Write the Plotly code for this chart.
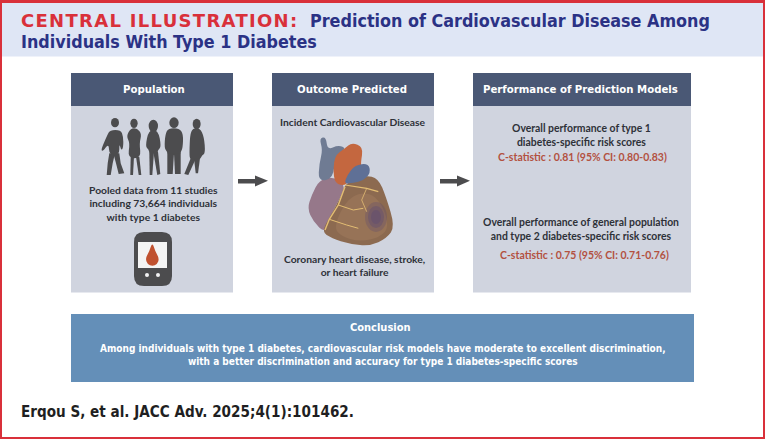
import plotly.graph_objects as go

# texts of the illustration
title_red = "CENTRAL ILLUSTRATION:"
title_line1 = "Prediction of Cardiovascular Disease Among"
title_line2 = "Individuals With Type 1 Diabetes"
box_titles = ["Population", "Outcome Predicted", "Performance of Prediction Models"]
population_lines = ["Pooled data from 11 studies", "including 73,664 individuals", "with type 1 diabetes"]
outcome_top = "Incident Cardiovascular Disease"
outcome_lines = ["Coronary heart disease, stroke,", "or heart failure"]
perf_t1_lines = ["Overall performance of type 1", "diabetes-specific risk scores"]
perf_t1_stat = "C-statistic : 0.81 (95% CI: 0.80-0.83)"
perf_gen_lines = ["Overall performance of general population", "and type 2 diabetes-specific risk scores"]
perf_gen_stat = "C-statistic : 0.75 (95% CI: 0.71-0.76)"
conclusion_title = "Conclusion"
conclusion_lines = [
    "Among individuals with type 1 diabetes, cardiovascular risk models have moderate to excellent discrimination,",
    "with a better discrimination and accuracy for type 1 diabetes-specific scores",
]
citation = "Erqou S, et al. JACC Adv. 2025;4(1):101462."

RED = "#d9303a"
NAVY = "#2b3285"
SLATE = "#4a5875"
PANEL = "#d0d4df"
BLUE = "#648fb8"
GREY = "#4c4c4e"
TEXT = "#2e3138"
STAT = "#b3513f"
GOLD = "#e3bd73"

NARROW = "DejaVu Sans Condensed"
BODY = "Lato"

fig = go.Figure()


def rect(x0, y0, x1, y1, color):
    fig.add_shape(type="rect", x0=x0, y0=y0, x1=x1, y1=y1, fillcolor=color, line=dict(width=0), layer="above")


def poly(points, color, ox, oy, round_it=True):
    pts = [(ox + x / 3, oy + y / 3) for x, y in points]
    if round_it:
        # rounded outline: each vertex is a control point between edge midpoints
        n = len(pts)
        mids = [((pts[i][0] + pts[(i + 1) % n][0]) / 2, (pts[i][1] + pts[(i + 1) % n][1]) / 2) for i in range(n)]
        d = f"M {mids[-1][0]:.1f},{mids[-1][1]:.1f}"
        for i in range(n):
            d += f" Q {pts[i][0]:.1f},{pts[i][1]:.1f} {mids[i][0]:.1f},{mids[i][1]:.1f}"
    else:
        d = "M " + " L ".join(f"{x:.1f},{y:.1f}" for x, y in pts)
    fig.add_shape(type="path", path=d + " Z", fillcolor=color, line=dict(width=0), layer="above")


def stroke(points, color, ox, oy, width=1):
    d = "M " + " L ".join(f"{ox + x / 3:.1f},{oy + y / 3:.1f}" for x, y in points)
    fig.add_shape(type="path", path=d, line=dict(color=color, width=width), layer="above")


def blob(cx, cy, rx, ry, color, opacity=1):
    fig.add_shape(type="circle", x0=cx - rx, y0=cy - ry, x1=cx + rx, y1=cy + ry,
                  fillcolor=color, opacity=opacity, line=dict(width=0), layer="above")


def text(x, y, s, size, color, family=BODY, weight=700, anchor="center"):
    fig.add_annotation(x=x, y=y, text=s, showarrow=False, xanchor=anchor, yanchor="middle",
                       font=dict(family=family, size=size, color=color, weight=weight))


# frame and header
rect(0, 0, 765, 439, RED)
rect(2, 3, 763, 437, "#ffffff")
rect(2, 3, 763, 56.5, "#dfe6f5")

# panels
for x0, x1 in [(71, 233), (272, 434), (473, 691)]:
    rect(x0, 106, x1, 292.5, PANEL)
    rect(x0, 73, x1, 106, SLATE)
rect(71, 314, 694, 382, BLUE)

# arrows
for x0 in [238, 440]:
    rect(x0, 179, x0 + 19, 183.5, GREY)
    poly([(51, 0), (90, 16), (51, 33)], GREY, x0, 175.5, round_it=False)

# people, in the coordinates of the crop at (60, 110)
people_heads = [(165, 38, 12, 14), (222, 40, 11, 14), (280, 48, 14, 19), (342, 38, 14, 16), (410, 42, 12, 16)]
people_bodies = [
    [(150, 60), (182, 60), (190, 80), (190, 112), (184, 122), (178, 100), (178, 135), (148, 135), (146, 100), (128, 125), (123, 118), (142, 75)],
    [(212, 55), (232, 55), (245, 72), (238, 100), (243, 145), (203, 145), (210, 100), (199, 78)],
    [(266, 60), (294, 60), (304, 110), (294, 120), (292, 130), (268, 130), (266, 118), (256, 110)],
    [(325, 55), (358, 55), (370, 72), (368, 115), (362, 125), (362, 135), (322, 135), (322, 125), (313, 115), (316, 72)],
    [(398, 55), (420, 55), (432, 80), (436, 130), (426, 135), (420, 150), (390, 150), (388, 130), (390, 75)],
]
people_legs = [
    [(148, 130), (165, 130), (158, 160), (152, 195), (140, 195), (143, 160)],
    [(160, 130), (178, 130), (182, 160), (193, 190), (176, 192), (168, 160)],
    [(212, 140), (222, 140), (219, 195), (211, 195)],
    [(228, 140), (238, 140), (244, 195), (236, 195)],
    [(268, 125), (282, 125), (277, 195), (269, 195)],
    [(280, 125), (294, 125), (301, 192), (292, 195)],
    [(322, 130), (342, 130), (338, 192), (322, 192)],
    [(342, 130), (362, 130), (362, 192), (345, 192)],
    [(392, 145), (408, 145), (385, 195), (373, 192)],
    [(402, 145), (420, 145), (414, 190), (407, 190)],
]
for hx0, hy0, hrx, hry in people_heads:
    blob(60 + hx0 / 3, 110 + hy0 / 3, hrx / 3, hry / 3, GREY)
for body in people_bodies:
    poly(body, GREY, 60, 110)
for leg in people_legs:
    poly(leg, GREY, 60, 110, round_it=False)

# glucose meter
fig.add_shape(type="path", fillcolor=GREY, line=dict(width=0), layer="above",
              path="M 144,232 L 162,232 Q 172,232 172,242 L 172,276 Q 172,286 162,286 "
                   "L 144,286 Q 134,286 134,276 L 134,242 Q 134,232 144,232 Z")
rect(138, 242, 167, 268, "#f4f4f4")
poly([(277, 396), (286, 425), (298, 445), (291, 464), (277, 468), (263, 464), (256, 445), (268, 425)], "#c0512f", 60, 110)
blob(147, 275, 2, 2, "#f2f2f2")
blob(158, 275, 2, 2, "#f2f2f2")

# heart, in the coordinates of the crop at (270, 120)
hx, hy = 270, 120
poly([(148, 180), (125, 225), (112, 265), (130, 305), (165, 340), (180, 290), (215, 225), (225, 195), (190, 170)], "#96788a", hx, hy)
poly([(225, 190), (285, 165), (325, 175), (348, 230), (375, 320), (350, 355), (300, 378), (240, 372), (185, 355), (155, 335), (180, 290), (215, 225)], "#8c6a50", hx, hy)
poly([(235, 230), (295, 215), (335, 250), (358, 320), (330, 352), (270, 365), (215, 350), (190, 320)], "#977357", hx, hy)
poly([(148, 55), (168, 50), (172, 90), (205, 75), (230, 85), (195, 110), (190, 175), (145, 185), (148, 130), (158, 90)], "#6f7b93", hx, hy)
poly([(190, 175), (192, 108), (225, 85), (245, 68), (280, 80), (272, 130), (275, 145), (245, 165), (230, 195), (205, 195)], "#c4673f", hx, hy)
poly([(232, 165), (255, 135), (295, 130), (302, 158), (280, 182), (250, 188), (222, 192)], "#5f7096", hx, hy)
for rx, ry, op in [(11, 15, 0.3), (8, 11, 0.4), (5, 7, 0.4)]:
    blob(hx + 106, hy + 97, rx, ry, "#5c4a72", op)
stroke([(225, 195), (290, 205), (325, 215)], GOLD, hx, hy, 1.2)
stroke([(225, 200), (205, 255), (178, 298), (165, 330)], GOLD, hx, hy, 1.4)
stroke([(178, 298), (230, 315), (265, 325)], GOLD, hx, hy, 1)
stroke([(205, 255), (250, 270), (280, 265)], GOLD, hx, hy, 1)
stroke([(290, 205), (275, 240), (290, 275)], GOLD, hx, hy, 0.8)

# header and panel text
text(19, 20, f"<span style='letter-spacing:1.3px'>{title_red}</span>", 18, RED, family="DejaVu Sans", anchor="left")
text(308, 20, title_line1, 17.8, NAVY, family=NARROW, anchor="left")
text(19, 41.5, title_line2, 17.8, NAVY, family=NARROW, anchor="left")

for cx, s in zip([154, 352, 580], box_titles):
    text(cx, 89, s, 11.3, "#ffffff", family=NARROW)

text(153, 203.5, "<br>".join(population_lines), 10.3, TEXT)
text(353, 122, outcome_top, 10.3, TEXT)
text(354, 265.5, "<br>".join(outcome_lines), 10.3, TEXT)
text(581, 135, "<br>".join(perf_t1_lines), 10.4, TEXT)
text(582, 157, perf_t1_stat, 10.5, STAT)
text(581, 228.5, "<br>".join(perf_gen_lines), 10.4, TEXT)
text(584.5, 254.7, perf_gen_stat, 10.5, STAT)

text(380.7, 327.7, conclusion_title, 11, "#ffffff", family=NARROW)
text(382.5, 354.5, "<br>".join(conclusion_lines), 10, "#ffffff", family=NARROW)
text(18.5, 412, citation, 15.1, "#1f1f22", family=NARROW, anchor="left")

fig.update_xaxes(range=[0, 765], visible=False, fixedrange=True)
fig.update_yaxes(range=[439, 0], visible=False, fixedrange=True)
fig.update_layout(
    width=765,
    height=439,
    margin=dict(l=0, r=0, t=0, b=0),
    paper_bgcolor="#ffffff",
    plot_bgcolor="#ffffff",
    showlegend=False,
)

fig.write_html("out.html", post_script="document.body.style.margin='0';", config={"displayModeBar": False})
